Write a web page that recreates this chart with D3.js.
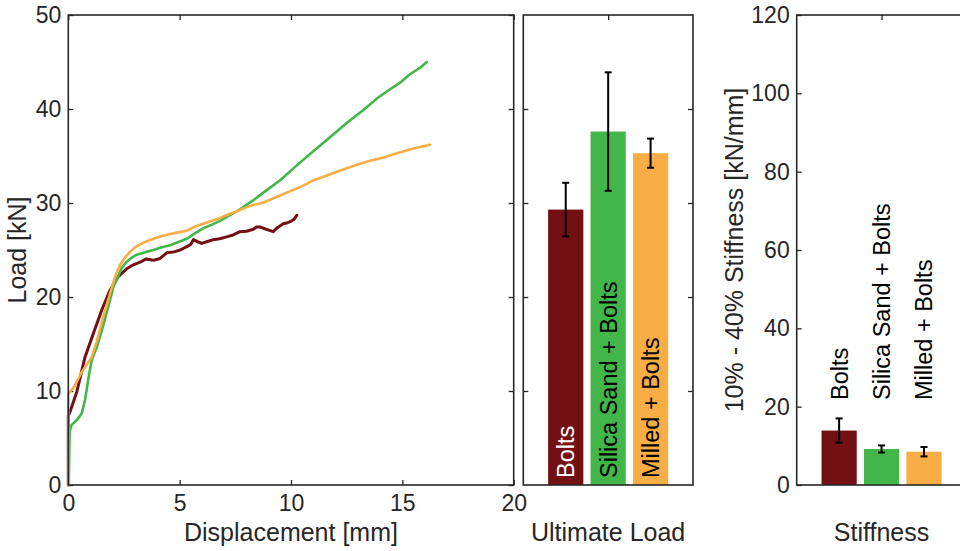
<!DOCTYPE html>
<html>
<head>
<meta charset="utf-8">
<script src="https://cdn.jsdelivr.net/npm/d3@7"></script>
<style>
  body { margin: 0; background: #fff; }
  svg { display: block; }
  text { font-family: "Liberation Sans", Arial, Helvetica, sans-serif; fill: #262626; }
</style>
</head>
<body>
<svg id="chart" width="960" height="551"></svg>
<script>
// ---- data ----
const groups = ["Bolts", "Silica Sand + Bolts", "Milled + Bolts"];
const groupColors = ["#731014", "#43b649", "#f9ae45"];

// load–displacement curves
const boltsDisp = [0, 0, 0.05, 0.15, 0.38, 0.5, 0.75, 1.12, 1.5, 1.87, 2.25, 2.62, 2.9, 3.22, 3.5, 3.82, 4.12, 4.42, 4.75, 5.02, 5.32, 5.5, 5.62, 5.8, 5.99, 6.25, 6.51, 6.8, 7.11, 7.4, 7.71, 8.0, 8.31, 8.45, 8.61, 8.9, 9.2, 9.4, 9.65, 9.85, 10.03, 10.15, 10.26];
const boltsLoad = [0, 7.4, 7.6, 8.3, 9.9, 11.1, 13.6, 16.1, 18.6, 20.7, 22.2, 23.0, 23.4, 23.7, 24.05, 23.9, 24.1, 24.7, 24.8, 25.0, 25.35, 25.6, 26.1, 25.9, 25.7, 25.9, 26.1, 26.2, 26.4, 26.6, 26.95, 27.0, 27.2, 27.45, 27.45, 27.2, 26.95, 27.4, 27.8, 27.9, 28.1, 28.3, 28.7];

const silicaDisp = [0.02, 0.06, 0.15, 0.38, 0.6, 0.75, 0.9, 1.05, 1.27, 1.5, 1.72, 2.03, 2.4, 2.6, 2.85, 3.07, 3.5, 3.82, 4.2, 4.57, 5.0, 5.32, 5.7, 6.06, 6.45, 6.81, 7.26, 7.56, 8.0, 8.31, 8.76, 9.5, 10.26, 11.0, 11.75, 12.5, 13.25, 13.9, 14.45, 14.9, 15.34, 15.8, 16.1];
const silicaLoad = [0, 5.7, 6.4, 6.9, 7.6, 9.0, 11.3, 13.3, 14.6, 16.4, 18.3, 21.1, 23.1, 23.7, 24.2, 24.5, 24.8, 25.0, 25.3, 25.5, 25.9, 26.2, 26.8, 27.3, 27.7, 28.1, 28.7, 29.1, 29.8, 30.3, 31.1, 32.4, 34.0, 35.5, 37.0, 38.5, 39.9, 41.2, 42.1, 42.8, 43.7, 44.4, 45.0];

const milledDisp = [0, 0, 0.1, 0.22, 0.45, 0.6, 0.8, 1.05, 1.27, 1.57, 1.95, 2.15, 2.32, 2.55, 2.77, 3.0, 3.22, 3.5, 3.82, 4.2, 4.57, 5.0, 5.32, 5.7, 6.06, 6.45, 6.81, 7.2, 7.56, 7.95, 8.31, 8.7, 9.06, 9.5, 10.1, 10.5, 11.0, 11.7, 12.5, 13.0, 13.55, 14.1, 14.75, 15.5, 16.24];
const milledLoad = [0, 9.7, 10.0, 10.3, 11.3, 12.0, 12.7, 13.6, 15.2, 17.9, 21.0, 22.5, 23.4, 24.2, 24.8, 25.3, 25.6, 25.9, 26.2, 26.5, 26.7, 26.9, 27.05, 27.5, 27.8, 28.1, 28.4, 28.8, 29.1, 29.5, 29.8, 30.0, 30.35, 30.8, 31.4, 31.8, 32.4, 33.0, 33.7, 34.1, 34.5, 34.8, 35.3, 35.8, 36.2];

// summary bars (mean ± error)
const ultimateLoad = [29.3, 37.6, 35.3];
const ultimateErr = [2.85, 6.3, 1.55];
const stiffness = [13.9, 9.2, 8.5];
const stiffnessErr = [3.1, 0.9, 1.2];

// ticks
const dispTicks = [0, 5, 10, 15, 20];
const loadTicks = [0, 10, 20, 30, 40, 50];
const stiffTicks = [0, 20, 40, 60, 80, 100, 120];

// ---- layout ----
const svg = d3.select("#chart");
const plotTop = 15, plotBottom = 485;
const axisColor = "#262626";
const tickLen = 5;
const tickFont = "23px";
const labelFont = "25px";

const panels = {
  curve: { x0: 68.3, x1: 513.7 },
  ult:   { x0: 523.3, x1: 693 },
  stiff: { x0: 796.7, x1: 966.4 }
};

function frame(p) {
  svg.append("rect")
    .attr("x", p.x0).attr("y", plotTop)
    .attr("width", p.x1 - p.x0).attr("height", plotBottom - plotTop)
    .attr("fill", "none").attr("stroke", axisColor).attr("stroke-width", 1.6);
}

function styleAxis(g, showLabels) {
  g.select(".domain").remove();
  g.selectAll(".tick line").attr("stroke", axisColor).attr("stroke-width", 1.3);
  g.selectAll(".tick text")
    .style("font-size", tickFont)
    .attr("fill", axisColor)
    .style("display", showLabels ? null : "none");
}

// ---- panel 1: load–displacement curves ----
const xC = d3.scaleLinear().domain([0, 20]).range([panels.curve.x0, panels.curve.x1]);
const yL = d3.scaleLinear().domain([0, 50]).range([plotBottom, plotTop]);

svg.append("g").attr("transform", `translate(${panels.curve.x0},0)`)
  .call(d3.axisLeft(yL).tickValues(loadTicks).tickSize(-tickLen).tickPadding(7))
  .call(g => styleAxis(g, true));
svg.append("g").attr("transform", `translate(${panels.curve.x1},0)`)
  .call(d3.axisRight(yL).tickValues(loadTicks).tickSize(-tickLen))
  .call(g => styleAxis(g, false));
svg.append("g").attr("transform", `translate(0,${plotBottom})`)
  .call(d3.axisBottom(xC).tickValues(dispTicks).tickSize(-tickLen).tickPadding(10))
  .call(g => styleAxis(g, true));
svg.append("g").attr("transform", `translate(0,${plotTop})`)
  .call(d3.axisTop(xC).tickValues(dispTicks).tickSize(-tickLen))
  .call(g => styleAxis(g, false));

const curves = [
  { d: boltsDisp, l: boltsLoad, c: groupColors[0], w: 3.0 },
  { d: silicaDisp, l: silicaLoad, c: groupColors[1], w: 2.6 },
  { d: milledDisp, l: milledLoad, c: groupColors[2], w: 2.6 }
];
const lineGen = d3.line().x(p => xC(p[0])).y(p => yL(p[1]));
// bolts first so the other two overlap it where they coincide
curves.forEach(c => {
  const pts = c.d.map((x, k) => [x, c.l[k]]);
  svg.append("path")
    .attr("d", lineGen(pts))
    .attr("fill", "none")
    .attr("stroke", c.c)
    .attr("stroke-width", c.w)
    .attr("stroke-linejoin", "round")
    .attr("stroke-linecap", "round");
});
frame(panels.curve);

svg.append("text")
  .attr("x", (panels.curve.x0 + panels.curve.x1) / 2).attr("y", 541)
  .attr("text-anchor", "middle").style("font-size", labelFont)
  .text("Displacement [mm]");
svg.append("text")
  .attr("transform", `translate(26,${(plotTop + plotBottom) / 2}) rotate(-90)`)
  .attr("text-anchor", "middle").style("font-size", labelFont)
  .text("Load [kN]");

// ---- bar panels ----
function barPanel(p, yScale, yTicks, values, errs, showYLabels, labelStartY, labelColors, title) {
  const x = d3.scaleLinear().domain([0, 4]).range([p.x0, p.x1]);
  const unit = x(1) - x(0);
  const barW = 0.83 * unit;

  svg.append("g").attr("transform", `translate(${p.x0},0)`)
    .call(d3.axisLeft(yScale).tickValues(yTicks).tickSize(-tickLen).tickPadding(7))
    .call(g => styleAxis(g, showYLabels));
  svg.append("g").attr("transform", `translate(${p.x1},0)`)
    .call(d3.axisRight(yScale).tickValues(yTicks).tickSize(-tickLen))
    .call(g => styleAxis(g, false));
  svg.append("g").attr("transform", `translate(0,${plotTop})`)
    .call(d3.axisTop(x).tickValues([2]).tickSize(-tickLen))
    .call(g => styleAxis(g, false));
  svg.append("g").attr("transform", `translate(0,${plotBottom})`)
    .call(d3.axisBottom(x).tickValues([2]).tickSize(-tickLen))
    .call(g => styleAxis(g, false));

  values.forEach((v, i) => {
    const cx = x(i + 1);
    svg.append("rect")
      .attr("x", cx - barW / 2).attr("y", yScale(v))
      .attr("width", barW).attr("height", yScale(0) - yScale(v))
      .attr("fill", groupColors[i]);
  });

  values.forEach((v, i) => {
    const cx = x(i + 1);
    const hi = yScale(v + errs[i]), lo = yScale(v - errs[i]);
    const g = svg.append("g").attr("stroke", "#000").attr("stroke-width", 2);
    g.append("line").attr("x1", cx).attr("x2", cx).attr("y1", hi).attr("y2", lo);
    g.append("line").attr("x1", cx - 3.5).attr("x2", cx + 3.5).attr("y1", hi).attr("y2", hi);
    g.append("line").attr("x1", cx - 3.5).attr("x2", cx + 3.5).attr("y1", lo).attr("y2", lo);
  });

  groups.forEach((name, i) => {
    const cx = x(i + 1);
    svg.append("text")
      .attr("transform", `translate(${cx},${labelStartY}) rotate(-90)`)
      .attr("dy", "0.36em")
      .attr("text-anchor", "start")
      .style("font-size", "23.5px")
      .style("fill", labelColors[i])
      .text(name);
  });

  frame(p);

  svg.append("text")
    .attr("x", x(2)).attr("y", 541)
    .attr("text-anchor", "middle").style("font-size", labelFont)
    .text(title);
}

const yU = d3.scaleLinear().domain([0, 50]).range([plotBottom, plotTop]);
barPanel(panels.ult, yU, [10, 20, 30, 40], ultimateLoad, ultimateErr, false, 478,
  ["#ffffff", "#000000", "#000000"], "Ultimate Load");

const yS = d3.scaleLinear().domain([0, 120]).range([plotBottom, plotTop]);
barPanel(panels.stiff, yS, stiffTicks, stiffness, stiffnessErr, true, 400,
  ["#000000", "#000000", "#000000"], "Stiffness");

svg.append("text")
  .attr("transform", `translate(743,${(plotTop + plotBottom) / 2}) rotate(-90)`)
  .attr("text-anchor", "middle").style("font-size", labelFont)
  .text("10% - 40% Stiffness [kN/mm]");
</script>
</body>
</html>
